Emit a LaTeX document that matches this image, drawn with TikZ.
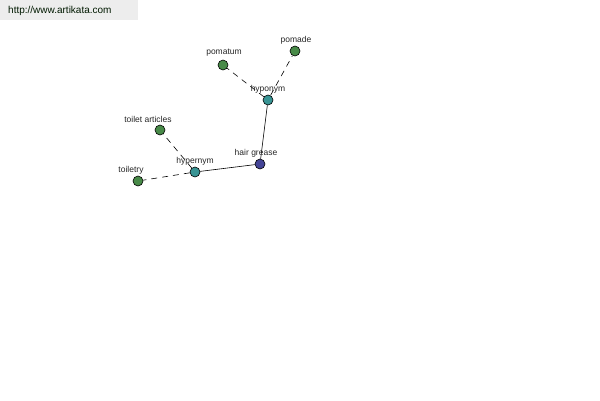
\documentclass[tikz,border=0pt]{standalone}
\usepackage{fontspec}
\setmainfont{Liberation Sans}
\begin{document}
\begin{tikzpicture}[x=1pt,y=-1pt,
  dot/.style={circle,draw=black,line width=0.6pt,minimum size=10pt,inner sep=0pt},
  leaf/.style={dot,fill=leafc},
  mid/.style={dot,fill=midc},
  root/.style={dot,fill=rootc},
  lbl/.style={font=\fontsize{8.5}{9}\selectfont,text=black!85,inner sep=0pt},
  rel/.style={line width=0.6pt,black},
  drel/.style={rel,dash pattern=on 6pt off 5pt}]
\definecolor{leafc}{RGB}{72,138,72}
\definecolor{midc}{RGB}{56,148,148}
\definecolor{rootc}{RGB}{68,68,150}
\useasboundingbox (0,0) rectangle (600,400);
\fill[fill=black!7] (0,0) rectangle (138,20);
\node[anchor=west,font=\fontsize{10}{11}\selectfont,text=black!75!green!40!black,inner sep=0pt] (url) at (8,11) {http://www.artikata.com};
\node[root] (hg) at (260,164) {};
\node[mid] (hyper) at (195,172) {};
\node[mid] (hypo) at (268,100) {};
\node[leaf] (ta) at (160,130) {};
\node[leaf] (tl) at (138,181) {};
\node[leaf] (pt) at (223,65) {};
\node[leaf] (pd) at (295,51) {};
\draw[rel] (hg) -- (hyper);
\draw[rel] (hg) -- (hypo);
\draw[drel] (hyper) -- (tl);
\draw[drel] (hyper) -- (ta);
\draw[drel] (hypo) -- (pt);
\draw[drel] (hypo) -- (pd);
\node[lbl] (lhg) at (256,153) {hair grease};
\node[lbl] (lhyper) at (195,161) {hypernym};
\node[lbl] (lhypo) at (268,89) {hyponym};
\node[lbl] (lta) at (148,119) {toilet articles};
\node[lbl] (ltl) at (131,170) {toiletry};
\node[lbl] (lpt) at (224,53) {pomatum};
\node[lbl] (lpd) at (296,40) {pomade};
\end{tikzpicture}
\end{document}
